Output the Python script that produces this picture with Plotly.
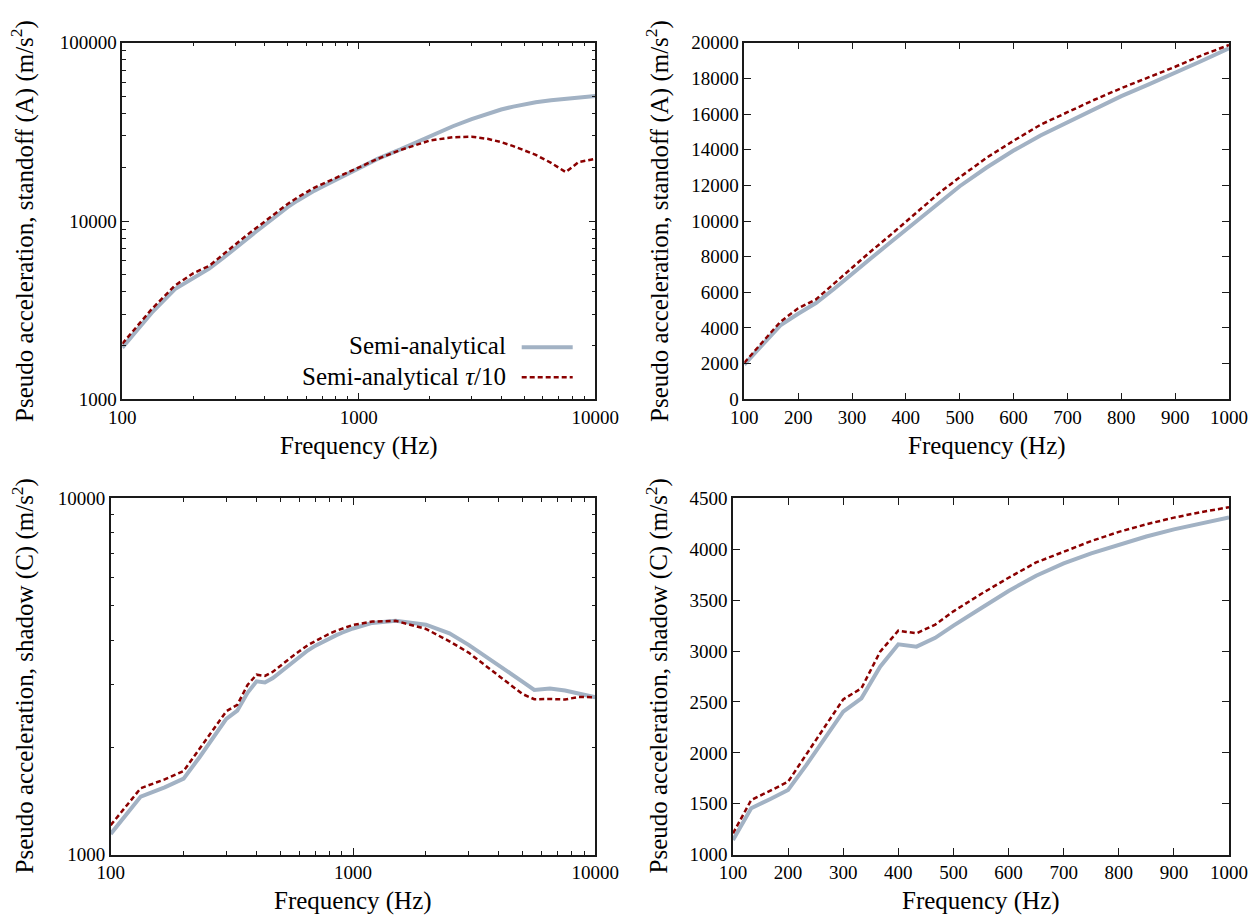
import plotly.graph_objects as go

# Sampled frequencies (Hz)
freq = [100, 133, 167, 200, 233, 267, 300, 333, 367, 400, 433, 467, 500, 550, 600,
        650, 700, 750, 800, 850, 900, 950, 1000, 1200, 1500, 2000, 2500, 3000, 3500,
        4000, 4500, 5000, 5600, 6500, 7500, 8500, 10000]

# Pseudo acceleration at standoff point A (m/s^2)
standoff_semi = [1950, 3050, 4150, 4800, 5400, 6200, 7050, 7850, 8700, 9500, 10350, 11170,
                 11950, 13000, 13950, 14800, 15550, 16300, 17000, 17650, 18300, 18990, 19690,
                 22300, 25200, 30000, 34000, 37300, 40000, 42200, 43800, 45000, 46300, 47500,
                 48500, 49400, 50200]
standoff_tau = [2050, 3200, 4350, 5100, 5600, 6500, 7400, 8250, 9100, 9950, 10800, 11700,
                12450, 13550, 14500, 15400, 16100, 16800, 17450, 18050, 18650, 19300, 19870,
                22300, 25000, 28300, 29500, 29700, 28900, 27700, 26300, 25000, 23500, 21200,
                18800, 21400, 22300]

# Pseudo acceleration at shadow point C (m/s^2)
shadow_semi = [1144, 1456, 1545, 1635, 1880, 2140, 2404, 2536, 2846, 3066, 3043, 3130, 3250,
               3420, 3590, 3740, 3860, 3960, 4045, 4125, 4195, 4255, 4313, 4470, 4530, 4420,
               4180, 3880, 3620, 3390, 3210, 3060, 2900, 2925, 2890, 2840, 2766]
shadow_tau = [1210, 1537, 1627, 1717, 1985, 2255, 2526, 2634, 2994, 3200, 3174, 3260, 3390,
              3560, 3720, 3870, 3975, 4080, 4170, 4245, 4310, 4365, 4412, 4510, 4530, 4300,
              3970, 3690, 3400, 3180, 2985, 2825, 2730, 2735, 2725, 2770, 2766]

series_names = ["Semi-analytical", "Semi-analytical <i>τ</i>/10"]
x_title = "Frequency (Hz)"
y_title_top = "Pseudo acceleration, standoff (A) (m/s<sup>2</sup>)"
y_title_bottom = "Pseudo acceleration, shadow (C) (m/s<sup>2</sup>)"

W, H = 1259, 916
FONT = "'Liberation Serif', 'DejaVu Serif', serif"
GREY = "#a2b2c4"
RED = "#8b0000"
INK = "#1a1a1a"


def px(x):
    return x / W


def py(y):
    return 1 - y / H


def lin_subset(xs, ys, xmax=1000):
    pairs = [(a, b) for a, b in zip(xs, ys) if a <= xmax]
    return [p[0] for p in pairs], [p[1] for p in pairs]


fig = go.Figure()

panels = [
    # (xaxis id, yaxis id, semi, tau, log?)
    ("x", "y", standoff_semi, standoff_tau, True),
    ("x2", "y2", standoff_semi, standoff_tau, False),
    ("x3", "y3", shadow_semi, shadow_tau, True),
    ("x4", "y4", shadow_semi, shadow_tau, False),
]

for xa, ya, semi, tau, is_log in panels:
    if is_log:
        xs1, ys1, xs2, ys2 = freq, semi, freq, tau
    else:
        xs1, ys1 = lin_subset(freq, semi)
        xs2, ys2 = lin_subset(freq, tau)
    fig.add_trace(go.Scatter(x=xs1, y=ys1, mode="lines", xaxis=xa, yaxis=ya,
                             name=series_names[0], showlegend=False,
                             line=dict(color=GREY, width=4)))
    fig.add_trace(go.Scatter(x=xs2, y=ys2, mode="lines", xaxis=xa, yaxis=ya,
                             name=series_names[1], showlegend=False,
                             line=dict(color=RED, width=2.5, dash="5px,3px")))

tickfont = dict(family=FONT, size=19, color="black")
base = dict(showline=True, linecolor=INK, linewidth=1.5, mirror="allticks",
            ticks="inside", ticklen=7, tickwidth=1.2, tickcolor=INK,
            showgrid=False, zeroline=False, tickfont=tickfont, automargin=False)
minor_log = dict(ticks="inside", ticklen=4, tickwidth=1.2, tickcolor=INK,
                 dtick="D1", showgrid=False)

# plot-area edges in pixels
L_top, L_bot, R_left = 122.3, 110.7, 595.3
L2_top, L2_bot, R_right = 744.3, 733.0, 1229.0
T_top, B_top = 42.7, 399.3
T_bot, B_bot = 498.3, 854.7

fig.update_layout(
    template="none",
    width=W, height=H, margin=dict(l=0, r=0, t=0, b=0, autoexpand=False),
    paper_bgcolor="white", plot_bgcolor="white", showlegend=False,
    xaxis=dict(base, type="log", range=[2, 4], domain=[px(L_top), px(R_left)],
               tickvals=[100, 1000, 10000], ticktext=["100", "1000", "10000"],
               minor=minor_log, anchor="y"),
    yaxis=dict(base, type="log", range=[3, 5], domain=[py(B_top), py(T_top)],
               tickvals=[1000, 10000, 100000], ticktext=["1000", "10000", "100000"],
               minor=minor_log, anchor="x"),
    xaxis2=dict(base, range=[100, 1000], dtick=100, tick0=100, tickformat="d",
                domain=[px(L2_top), px(R_right)], anchor="y2"),
    yaxis2=dict(base, range=[0, 20000], dtick=2000, tick0=0, tickformat="d",
                domain=[py(B_top), py(T_top)], anchor="x2"),
    xaxis3=dict(base, type="log", range=[2, 4], domain=[px(L_bot), px(R_left)],
                tickvals=[100, 1000, 10000], ticktext=["100", "1000", "10000"],
                minor=minor_log, anchor="y3"),
    yaxis3=dict(base, type="log", range=[3, 4], domain=[py(B_bot), py(T_bot)],
                tickvals=[1000, 10000], ticktext=["1000", "10000"],
                minor=minor_log, anchor="x3"),
    xaxis4=dict(base, range=[100, 1000], dtick=100, tick0=100, tickformat="d",
                domain=[px(L2_bot), px(R_right)], anchor="y4"),
    yaxis4=dict(base, range=[1000, 4500], dtick=500, tick0=1000, tickformat="d",
                domain=[py(B_bot), py(T_bot)], anchor="x4"),
)

title_font = dict(family=FONT, size=25, color="black")
ann = []
# x-axis titles
for xl, xr, yc in [(L_top, R_left, 446), (L2_top, R_right, 446),
                   (L_bot, R_left, 901), (L2_bot, R_right, 901)]:
    ann.append(dict(text=x_title, x=px((xl + xr) / 2), y=py(yc), xref="paper",
                    yref="paper", xanchor="center", yanchor="middle",
                    showarrow=False, font=title_font))
# y-axis titles
for xc, yt, yb, txt in [(23, T_top, B_top, y_title_top), (658, T_top, B_top, y_title_top),
                        (23, T_bot, B_bot, y_title_bottom), (657, T_bot, B_bot, y_title_bottom)]:
    ann.append(dict(text=txt, x=px(xc), y=py((yt + yb) / 2), xref="paper",
                    yref="paper", xanchor="center", yanchor="middle", textangle=-90,
                    showarrow=False, font=title_font))
# key labels
for name, yc in zip(series_names, [346, 376]):
    ann.append(dict(text=name, x=px(508.3), y=py(yc), xref="paper", yref="paper",
                    xanchor="right", yanchor="middle", showarrow=False, font=title_font))
fig.update_layout(annotations=ann)

# key line samples
fig.add_shape(type="line", xref="paper", yref="paper", x0=px(521.7), x1=px(572.7),
              y0=py(347.3), y1=py(347.3), line=dict(color=GREY, width=4))
fig.add_shape(type="line", xref="paper", yref="paper", x0=px(521.7), x1=px(572.7),
              y0=py(377.3), y1=py(377.3), line=dict(color=RED, width=2.5, dash="5px,3px"))

fig.write_html("out.html")
